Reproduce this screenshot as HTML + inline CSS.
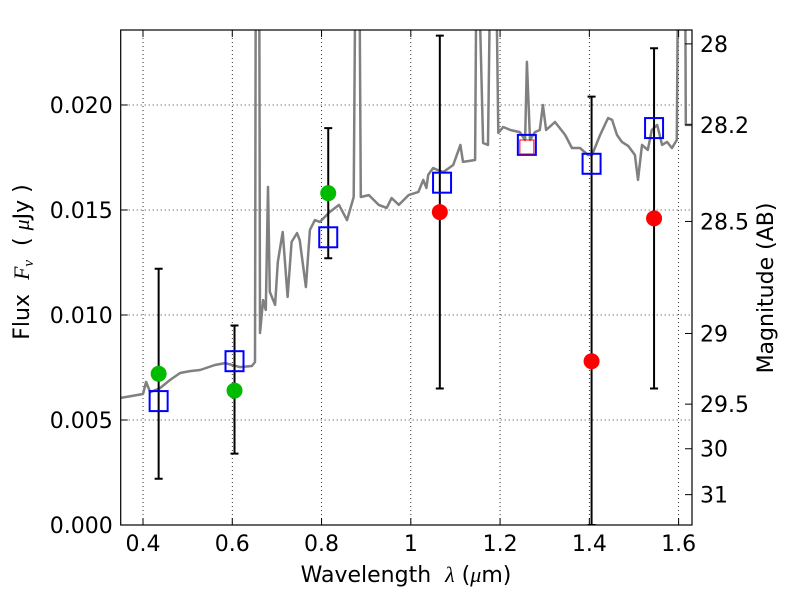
<!DOCTYPE html>
<html><head><meta charset="utf-8"><style>
body{margin:0;background:#fff}
svg text{font-family:"DejaVu Sans","Liberation Sans",sans-serif;fill:#000}
</style></head><body>
<svg id="c" width="800" height="600"></svg>
<script>
const specLam=[0.350,0.400,0.407,0.416,0.438,0.460,0.483,0.505,0.528,0.561,0.584,0.617,0.644,0.651,0.653,0.660,0.662,0.669,0.675,0.680,0.684,0.696,0.702,0.713,0.724,0.733,0.745,0.751,0.765,0.774,0.785,0.796,0.818,0.839,0.857,0.872,0.877,0.884,0.888,0.906,0.928,0.946,0.957,0.973,0.995,1.017,1.028,1.035,1.039,1.050,1.061,1.073,1.095,1.111,1.117,1.144,1.148,1.162,1.173,1.180,1.189,1.196,1.207,1.223,1.244,1.256,1.260,1.267,1.278,1.289,1.296,1.303,1.323,1.346,1.361,1.379,1.397,1.406,1.424,1.442,1.451,1.462,1.473,1.487,1.502,1.509,1.518,1.531,1.540,1.552,1.563,1.574,1.585,1.596,1.600,1.614,1.616,1.630];
const specFlux=[0.00605,0.00624,0.00681,0.00633,0.00652,0.00690,0.00724,0.00733,0.00738,0.00762,0.00771,0.00752,0.00757,0.00776,0.03,0.03,0.00914,0.01071,0.01024,0.01610,0.01110,0.01048,0.01252,0.01395,0.01086,0.01348,0.01390,0.01357,0.01133,0.01405,0.01452,0.01443,0.01490,0.01524,0.01452,0.01562,0.03,0.03,0.01562,0.01571,0.01524,0.01510,0.01557,0.01524,0.01571,0.01586,0.01643,0.01605,0.01667,0.01700,0.01690,0.01681,0.01714,0.01810,0.01729,0.01738,0.03,0.01819,0.01810,0.03,0.03,0.01867,0.01895,0.01881,0.01871,0.01833,0.02205,0.01833,0.01871,0.01881,0.02000,0.01881,0.01919,0.01857,0.01795,0.01795,0.01762,0.01762,0.01857,0.01938,0.01929,0.01857,0.01824,0.01805,0.01762,0.01643,0.01810,0.01786,0.01881,0.01905,0.01810,0.01824,0.01795,0.01833,0.03,0.03,0.01905,0.01905];
const greenLam=[0.435,0.605,0.815];
const greenFlux=[0.0072,0.0064,0.0158];
const redLam=[1.065,1.405,1.545];
const redFlux=[0.0149,0.0078,0.0146];
const errLam=[0.435,0.605,0.815,1.065,1.405,1.545];
const errLo=[0.0022,0.0034,0.0127,0.0065,0.0,0.0065];
const errHi=[0.0122,0.0095,0.0189,0.0233,0.0204,0.0227];
const sqLam=[0.435,0.605,0.815,1.07,1.26,1.405,1.545];
const sqFlux=[0.0059,0.0078,0.0137,0.0163,0.0181,0.0172,0.0189];
const redSqLam=[1.26];
const redSqFlux=[0.0180];
const xTicks=[0.4,0.6,0.8,1.0,1.2,1.4,1.6];
const xTickLabels=["0.4","0.6","0.8","1","1.2","1.4","1.6"];
const yTicks=[0,0.005,0.010,0.015,0.020];
const yTickLabels=["0.000","0.005","0.010","0.015","0.020"];
const magTicks=[28,28.2,28.5,29,29.5,30,31];
const magTickLabels=["28","28.2","28.5","29","29.5","30","31"];

const L=120.7,R=692,T=30,B=525,X0=0.35,X1=1.63,Y0=0,Y1=0.02357;
const sx=v=>L+(v-X0)/(X1-X0)*(R-L);
const sy=v=>B-(v-Y0)/(Y1-Y0)*(B-T);
const magToFlux=m=>Math.pow(10,(23.9-m)/2.5);
const svg=document.getElementById('c');
const NS='http://www.w3.org/2000/svg';
function mk(tag,attrs,parent){const e=document.createElementNS(NS,tag);for(const k in attrs)e.setAttribute(k,attrs[k]);(parent||svg).appendChild(e);return e;}

const defs=mk('defs',{});
const cp=mk('clipPath',{id:'clip'},defs);
mk('rect',{x:L,y:T,width:R-L,height:B-T},cp);

xTicks.forEach(t=>{const g=mk('line',{x1:sx(t),x2:sx(t),y1:T,y2:B,stroke:'#000','stroke-width':0.8,'stroke-dasharray':'1,3'});

});
yTicks.forEach(t=>{const g=mk('line',{x1:L,x2:R,y1:sy(t),y2:sy(t),stroke:'#000','stroke-width':0.8,'stroke-dasharray':'1,3'});

});

const plot=mk('g',{'clip-path':'url(#clip)'});



let d=specLam.map((l,i)=>(i?'L':'M')+sx(l).toFixed(1)+','+sy(specFlux[i]).toFixed(1)).join('');
const sp=mk('path',{d:d,fill:'none',stroke:'#808080','stroke-width':2.5,'stroke-linejoin':'round'},plot);



errLam.forEach((l,i)=>{const x=sx(l);
const e=mk('path',{d:`M${x},${sy(errLo[i])}V${sy(errHi[i])}M${x-4},${sy(errLo[i])}H${x+4}M${x-4},${sy(errHi[i])}H${x+4}`,stroke:'#000','stroke-width':2,fill:'none'},plot);

});

greenLam.forEach((l,i)=>{const c=mk('circle',{cx:sx(l),cy:sy(greenFlux[i]),r:8,fill:'#00bb00'},plot);

});
redLam.forEach((l,i)=>{const c=mk('circle',{cx:sx(l),cy:sy(redFlux[i]),r:8,fill:'#ff0000'},plot);

});
sqLam.forEach((l,i)=>{const s=mk('rect',{x:sx(l)-9,y:sy(sqFlux[i])-10,width:18,height:20,fill:'none',stroke:'#0000ff','stroke-width':2},plot);

});
redSqLam.forEach((l,i)=>{const s=mk('rect',{x:sx(l)-7,y:sy(redSqFlux[i])-7,width:14,height:14,fill:'none',stroke:'#ff0000','stroke-width':1},plot);

});

const fr=mk('rect',{x:L,y:T,width:R-L,height:B-T,fill:'none',stroke:'#000','stroke-width':1.2});



xTicks.forEach((t,i)=>{const x=sx(t);
mk('path',{d:`M${x},${B}v-7M${x},${T}v7`,stroke:'#000','stroke-width':1});
const tx=mk('text',{x:x,y:B+26,'text-anchor':'middle','font-size':22});tx.textContent=xTickLabels[i];

});
yTicks.forEach((t,i)=>{const y=sy(t);
mk('path',{d:`M${L},${y}h7`,stroke:'#000','stroke-width':1});
const tx=mk('text',{x:L-8,y:y+8,'text-anchor':'end','font-size':22});tx.textContent=yTickLabels[i];

});
magTicks.forEach((m,i)=>{const y=sy(magToFlux(m));
mk('path',{d:`M${R},${y}h-7`,stroke:'#000','stroke-width':1});
const tx=mk('text',{x:R+8,y:y+8,'font-size':22});tx.textContent=magTickLabels[i];

});
</script>
<svg width="800" height="600" style="position:absolute;left:0;top:0;pointer-events:none">
<text x="406" y="582" text-anchor="middle" font-size="22" xml:space="preserve">Wavelength  <tspan font-style="italic" font-family="Liberation Serif,serif">λ</tspan> (<tspan font-style="italic" font-family="Liberation Serif,serif">μ</tspan>m)</text>
<text transform="translate(29,262) rotate(-90)" text-anchor="middle" font-size="22" xml:space="preserve">Flux  <tspan font-style="italic" font-family="Liberation Serif,serif">F<tspan font-size="15" dy="4">ν</tspan></tspan><tspan dy="-4">  ( </tspan><tspan font-style="italic" font-family="Liberation Serif,serif">μ</tspan>Jy )</text>
<text transform="translate(773,288) rotate(-90)" text-anchor="middle" font-size="22">Magnitude (AB)</text>
</svg>
</body></html>
